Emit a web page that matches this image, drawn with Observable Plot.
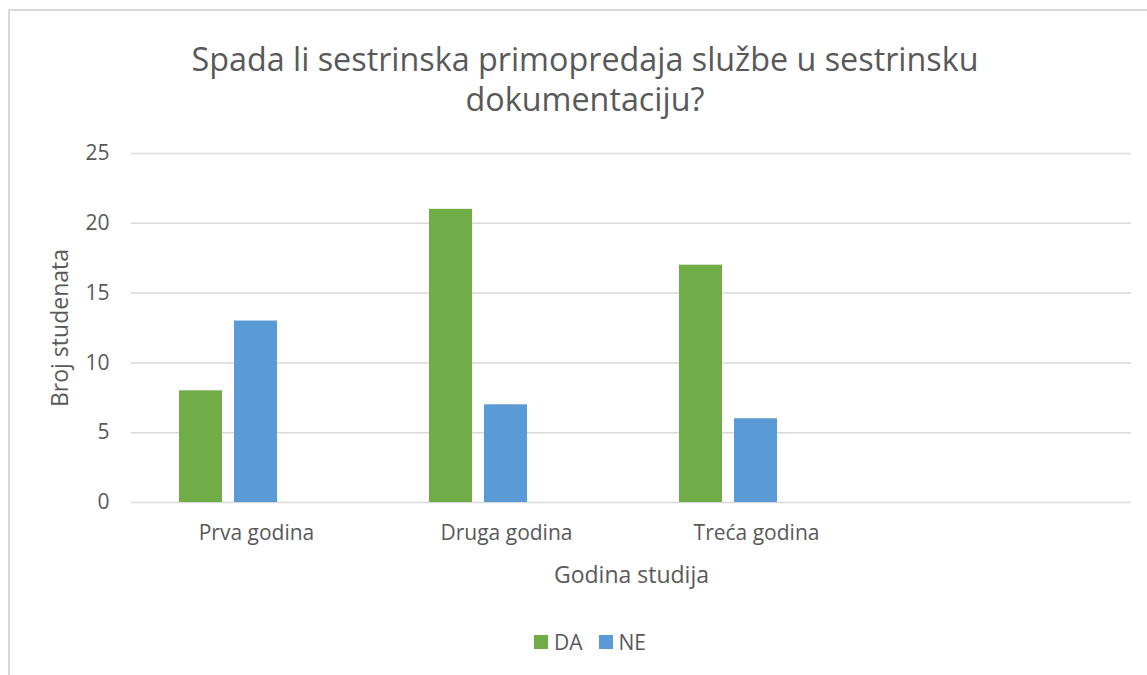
<!DOCTYPE html>
<html><head><meta charset="utf-8">
<script src="https://cdn.jsdelivr.net/npm/d3@7"></script>
<script src="https://cdn.jsdelivr.net/npm/@observablehq/plot@0.6"></script>
<style>
body{margin:0;background:#fff;}
#wrap{position:relative;width:1147px;height:675px;overflow:hidden;font-family:"Open Sans",sans-serif;color:#595959;background:#fff;}
#frame{position:absolute;left:8px;top:9px;width:1200px;height:700px;border:2px solid #d9d9d9;box-sizing:border-box;}
#title{position:absolute;left:0;top:38px;width:1170px;text-align:center;font-size:32.3px;line-height:40px;}
#chart{position:absolute;left:0;top:125px;}
#legend{position:absolute;left:0;top:628px;width:1180px;display:flex;justify-content:center;align-items:center;font-size:21px;line-height:28px;}
.sw{display:inline-block;width:14px;height:14px;margin-right:6px;}
.item{display:flex;align-items:center;margin:0 8px;}
[aria-label="fx-axis label"], [aria-label="fx-axis label"] text,
[aria-label="y-axis label"], [aria-label="y-axis label"] text{font-size:23px;}
</style></head><body>
<div id="wrap">
  <div id="frame"></div>
  <div id="title">Spada li sestrinska primopredaja službe u sestrinsku<br>dokumentaciju?</div>
  <div id="chart"></div>
  <div id="legend"></div>
</div>
<script>
const categories = ["Prva godina", "Druga godina", "Treća godina", " "];
const seriesNames = ["DA", "NE"];
const seriesColors = ["#70ad47", "#5b9bd5"];
const daValues = [8, 21, 17, null];
const neValues = [13, 7, 6, null];
const yTicks = [0, 5, 10, 15, 20, 25];

const rows = [];
daValues.forEach((v, i) => rows.push({cat: categories[i], series: "DA", value: v}));
neValues.forEach((v, i) => rows.push({cat: categories[i], series: "NE", value: v}));

const chart = Plot.plot({
  width: 1147,
  height: 495,
  marginLeft: 129,
  marginRight: 15,
  marginTop: 28,
  marginBottom: 118,
  style: {fontFamily: '"Open Sans", sans-serif', fontSize: "21px", color: "#595959", background: "transparent"},
  facet: {data: rows, x: "cat"},
  fx: {domain: categories, padding: 0, axis: "bottom", tickSize: 0, tickPadding: 23,
       label: "Godina studija", labelAnchor: "center", labelOffset: 80},
  x: {domain: ["DA", "NE", "_"], paddingInner: 0.214, paddingOuter: 0.846, axis: null},
  y: {domain: [0, 25], ticks: yTicks, tickSize: 0, tickPadding: 22,
      label: "Broj studenata", labelAnchor: "center", labelOffset: 80, labelArrow: "none"},
  color: {domain: seriesNames, range: seriesColors},
  marks: [
    Plot.ruleY(yTicks, {stroke: "#d9d9d9", strokeWidth: 1.5, facet: false}),
    Plot.barY(rows, {x: "series", y: "value", fill: "series"})
  ]
});
document.getElementById("chart").appendChild(chart);

const legend = document.getElementById("legend");
seriesNames.forEach((s, i) => {
  const item = document.createElement("span");
  item.className = "item";
  const sw = document.createElement("span");
  sw.className = "sw";
  sw.style.background = seriesColors[i];
  item.appendChild(sw);
  item.appendChild(document.createTextNode(s));
  legend.appendChild(item);
});
</script>
</body></html>
